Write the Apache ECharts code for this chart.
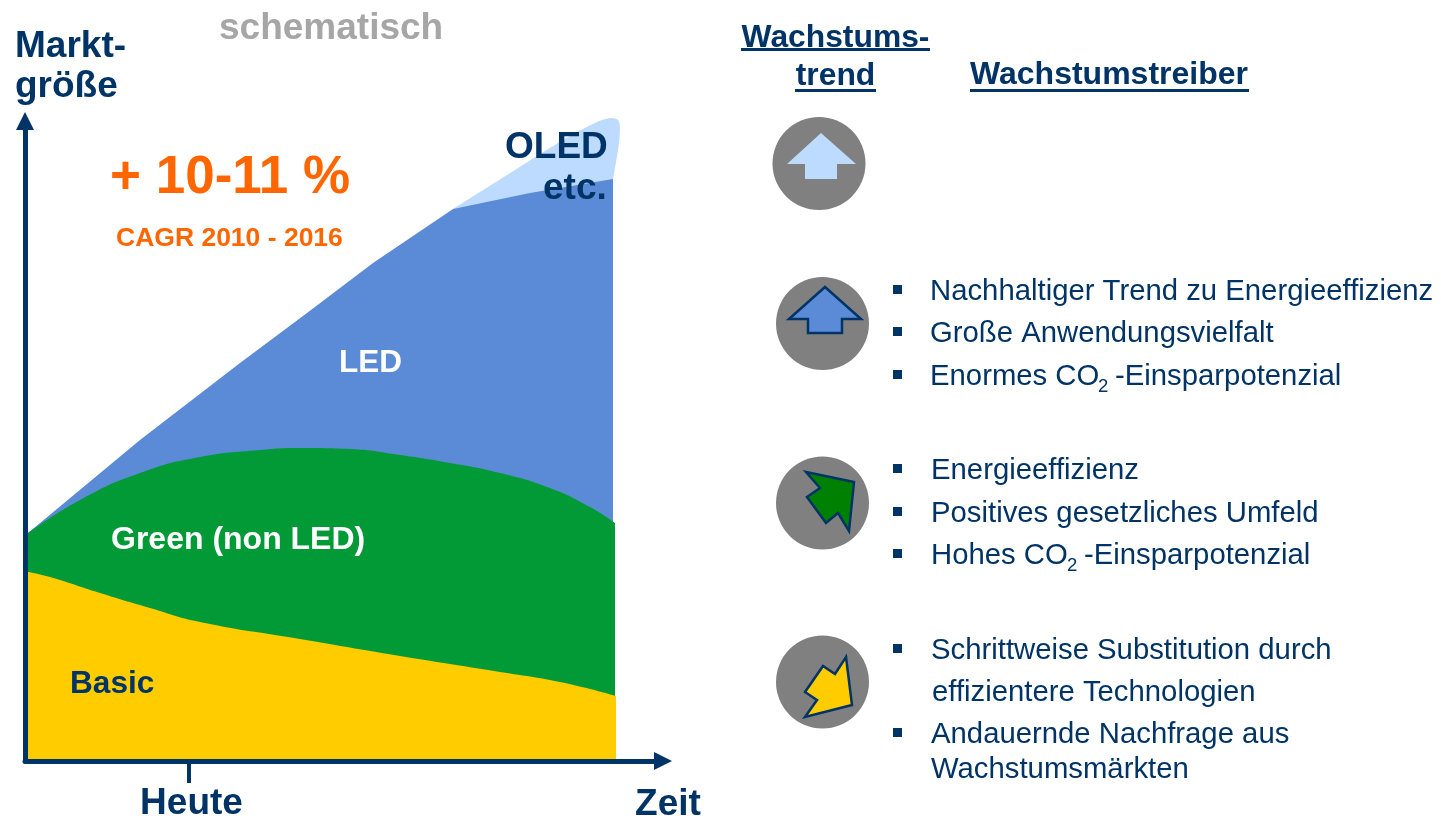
<!DOCTYPE html>
<html>
<head>
<meta charset="utf-8">
<title>Marktgröße</title>
<script src="https://cdn.jsdelivr.net/npm/echarts@6/dist/echarts.min.js"></script>
<style>
  html, body { margin: 0; padding: 0; background: #fff; }
  #chart { width: 1441px; height: 818px; }
</style>
</head>
<body>
<div id="chart"></div>
<script>
// schematische Werte: x = Zeit, y = Marktgröße (kumulierte Oberkante je Segment)
const oledX = [428, 482, 538, 572, 587, 593, 595, 593, 588];
const oledTop = [552, 586, 621, 639, 643, 641, 633, 611, 582];
const ledX = [3, 115, 215, 282, 348, 428, 505, 588];
const ledTop = [228, 321, 398, 448, 498, 552, 568, 582];
const greenX = [3, 55, 115, 175, 235, 275, 325, 375, 425, 475, 525, 565, 590];
const greenTop = [228, 261, 288, 304, 311, 313, 312, 306, 298, 288, 273, 254, 238];
const basicX = [3, 25, 75, 125, 175, 275, 375, 475, 535, 591];
const basicTop = [189, 184, 168, 153, 139, 122, 105, 89, 79, 65];

const heuteTick = [164];
const axisColor = '#003366';

const drivers = [
  { y: 290, text: 'Nachhaltiger Trend zu Energieeffizienz', x: 930, bullet: true },
  { y: 332, text: 'Große Anwendungsvielfalt', x: 930, bullet: true },
  { y: 375, text: 'Enormes CO', x: 930, bullet: true, sub: 1098, rest: '-Einsparpotenzial', restX: 1115 },
  { y: 469, text: 'Energieeffizienz', x: 931, bullet: true },
  { y: 512, text: 'Positives gesetzliches Umfeld', x: 931, bullet: true },
  { y: 554, text: 'Hohes CO', x: 931, bullet: true, sub: 1067, rest: '-Einsparpotenzial', restX: 1084 },
  { y: 649, text: 'Schrittweise Substitution durch', x: 931, bullet: true },
  { y: 691, text: 'effizientere Technologien', x: 932 },
  { y: 733, text: 'Andauernde Nachfrage aus', x: 931, bullet: true },
  { y: 768, text: 'Wachstumsmärkten', x: 931 }
];

function pairs(xs, ys) {
  return xs.map(function (x, i) { return [x, ys[i]]; });
}

function area(name, xs, ys, color, z, smooth) {
  return {
    name: name,
    type: 'line',
    data: pairs(xs, ys),
    z: z,
    symbol: 'none',
    smooth: smooth,
    clip: false,
    silent: true,
    lineStyle: { width: 0 },
    areaStyle: { color: color, opacity: 1 }
  };
}

function txt(x, y, text, size, color, bold, align) {
  return {
    type: 'text',
    x: x,
    y: y + 2,
    z: 20,
    style: {
      text: text,
      fill: color,
      align: align || 'left',
      verticalAlign: 'middle',
      fontFamily: '"Liberation Sans", Arial, sans-serif',
      fontWeight: bold ? 'bold' : 'normal',
      fontSize: size
    }
  };
}

function rect(x, y, w, h, color) {
  return { type: 'rect', z: 20, shape: { x: x, y: y, width: w, height: h }, style: { fill: color } };
}

function circle(cx, cy) {
  return { type: 'circle', z: 10, shape: { cx: cx, cy: cy, r: 46.5 }, style: { fill: '#808080' } };
}

function arrow(points, color, outlined) {
  return {
    type: 'polygon',
    z: 11,
    shape: { points: points },
    style: { fill: color, stroke: outlined ? axisColor : null, lineWidth: outlined ? 2.5 : 0, lineJoin: 'miter' }
  };
}

const graphic = [
  txt(15, 45, 'Markt-', 37, axisColor, true),
  txt(15, 85, 'größe', 37, axisColor, true),
  txt(219, 27, 'schematisch', 37, '#A6A6A6', true),
  txt(110, 176, '+ 10-11 %', 53, '#FF6600', true),
  txt(116, 237, 'CAGR 2010 - 2016', 26.5, '#FF6600', true),
  txt(505, 146, 'OLED', 37, axisColor, true),
  txt(543, 187, 'etc.', 37, axisColor, true),
  txt(339, 361, 'LED', 31.5, '#fff', true),
  txt(111, 538, 'Green (non LED)', 32, '#fff', true),
  txt(70, 682, 'Basic', 31.6, axisColor, true),
  txt(668, 803, 'Zeit', 37, axisColor, true, 'center'),
  txt(835.5, 36, 'Wachstums-', 31.8, axisColor, true, 'center'),
  txt(835.5, 74, 'trend', 31.8, axisColor, true, 'center'),
  txt(970, 73, 'Wachstumstreiber', 32, axisColor, true),
  rect(741, 48, 189, 3, axisColor),
  rect(795, 89, 81, 3, axisColor),
  rect(970, 89, 279, 3, axisColor),
  circle(819, 163.5),
  circle(822.5, 323.5),
  circle(822.5, 503),
  circle(822.5, 682),
  arrow([[821, 133], [856, 164], [837, 164], [837, 179], [805, 179], [805, 164], [787, 164]], '#BDDBFF', false),
  arrow([[825, 287], [861, 319], [842, 319], [842, 333], [808, 333], [808, 319], [789, 319]], '#5B8BD7', true),
  arrow([[806, 472], [854, 482], [849, 531], [838, 513], [826, 523], [807, 497], [820, 488]], '#008000', true),
  arrow([[846, 657], [852, 705], [805, 717], [817, 700], [805, 692], [823, 666], [835, 674]], '#FFCC00', true)
];

drivers.forEach(function (d) {
  graphic.push(txt(d.x, d.y, d.text, 29.3, axisColor, false));
  if (d.bullet) graphic.push(rect(893, d.y - 5, 9, 9, axisColor));
  if (d.sub) {
    graphic.push(txt(d.sub, d.y + 10, '2', 18.5, axisColor, false));
    graphic.push(txt(d.restX, d.y, d.rest, 29.3, axisColor, false));
  }
});

const chart = echarts.init(document.getElementById('chart'));
chart.setOption({
  animation: false,
  backgroundColor: '#fff',
  grid: { left: 25, right: 778, top: 121, bottom: 57, outerBoundsMode: 'none' },
  xAxis: {
    type: 'value',
    min: 0,
    max: 638,
    z: 5,
    splitLine: { show: false },
    axisLine: {
      onZero: false,
      lineStyle: { color: axisColor, width: 5 },
      symbol: ['none', 'triangle'],
      symbolSize: [18, 18]
    },
    axisTick: { show: true, length: 22, inside: false, customValues: heuteTick, lineStyle: { color: axisColor, width: 4 } },
    axisLabel: {
      show: true,
      customValues: heuteTick,
      formatter: function () { return 'Heute'; },
      margin: 24,
      padding: [0, 0, 0, 5],
      color: axisColor,
      fontFamily: '"Liberation Sans", Arial, sans-serif',
      fontWeight: 'bold',
      fontSize: 37
    }
  },
  yAxis: {
    type: 'value',
    min: 0,
    max: 640,
    z: 5,
    splitLine: { show: false },
    axisTick: { show: false },
    axisLabel: { show: false },
    axisLine: {
      onZero: false,
      lineStyle: { color: axisColor, width: 5 },
      symbol: ['none', 'triangle'],
      symbolSize: [18, 18]
    }
  },
  series: [
    area('OLED etc.', oledX, oledTop, '#BDDBFF', 2, 0.3),
    area('LED', ledX, ledTop, '#5B8BD7', 3, false),
    area('Green (non LED)', greenX, greenTop, '#029A36', 4, 0.5),
    area('Basic', basicX, basicTop, '#FFCC00', 4.5, 0.5)
  ],
  graphic: graphic
});
</script>
</body>
</html>
